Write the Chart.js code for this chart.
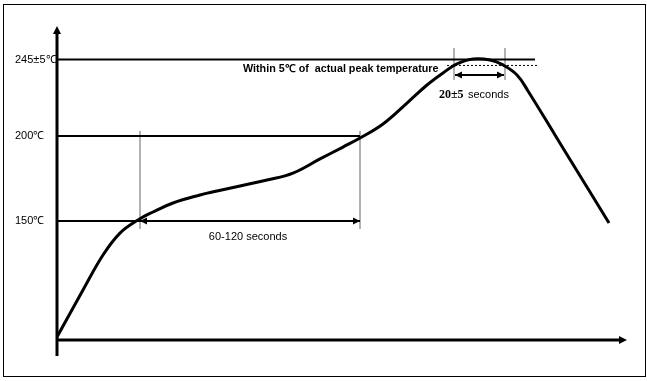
<!DOCTYPE html>
<html>
<head>
<meta charset="utf-8">
<script src="https://cdn.jsdelivr.net/npm/chart.js@4"></script>
<style>
  html, body { margin: 0; padding: 0; background: #fff; }
  #wrap { position: relative; width: 647px; height: 381px; }
</style>
</head>
<body>
<div id="wrap"><canvas id="c" width="647" height="381"></canvas></div>
<script>
// ─── Data ───────────────────────────────────────────
// reflow profile, time in seconds (schematic), temperature in ℃
const timeS = [0, 13, 23, 31.5, 40.5, 48, 58, 71.5, 80, 91.5, 105, 118, 131.5, 143, 151.5, 163, 175, 185, 193, 200, 208, 216.5, 223, 230, 235.5, 249, 256.5, 266.5, 276];
const tempC = [81.8, 109.4, 130, 142.9, 150.6, 155.3, 160.6, 165.3, 167.6, 170.6, 174.1, 178.2, 186.5, 193.5, 198.8, 207.1, 219.4, 230, 237.1, 242.4, 245.3, 244.7, 241.8, 235.9, 226.5, 200.6, 186.2, 167.1, 148.8];

// reference levels and their axis labels
const levelT = [150, 200, 245];
const levelLabels = ['150℃', '200℃', '245±5℃'];
const levelEnd = [151.5, 151.5, 239];

// thin vertical marker lines
const markX = [41.5, 151.5, 198.5, 224];
const markLo = [145.3, 145.3, 233, 233];
const markHi = [203, 203, 251.8, 251.8];

// "within 5℃" dotted level
const withinT = 241.5;
const withinX = [195, 240];

// time spans with double arrows
const soakX = [41.5, 151.5];
const soakT = 150;
const peakX = [199, 223.5];
const peakT = 235.9;

// ─── Helpers ────────────────────────────────────────
const pts = (xs, ys) => xs.map((x, i) => ({ x, y: ys[i] }));

function arrowHead(ctx, x, y, dir, len, half) {
  // dir: 'l' | 'r' | 'u'
  ctx.beginPath();
  if (dir === 'r') { ctx.moveTo(x, y); ctx.lineTo(x - len, y - half); ctx.lineTo(x - len, y + half); }
  if (dir === 'l') { ctx.moveTo(x, y); ctx.lineTo(x + len, y - half); ctx.lineTo(x + len, y + half); }
  if (dir === 'u') { ctx.moveTo(x, y); ctx.lineTo(x - half, y + len); ctx.lineTo(x + half, y + len); }
  ctx.closePath();
  ctx.fill();
}

// ─── Datasets ───────────────────────────────────────
const datasets = [
  { data: pts(timeS, tempC), borderColor: '#000', borderWidth: 3, tension: 0.4 },
];
levelT.forEach((t, i) => {
  datasets.push({ data: [{ x: 0, y: t }, { x: levelEnd[i], y: t }], borderColor: '#000', borderWidth: 2 });
});
markX.forEach((x, i) => {
  datasets.push({ data: [{ x, y: markLo[i] }, { x, y: markHi[i] }], borderColor: '#666', borderWidth: 1 });
});
datasets.push({ data: withinX.map(x => ({ x, y: withinT })), borderColor: '#000', borderWidth: 1, borderDash: [2, 2] });
datasets.push({ data: soakX.map(x => ({ x, y: soakT })), borderColor: '#000', borderWidth: 2, span: true });
datasets.push({ data: peakX.map(x => ({ x, y: peakT })), borderColor: '#000', borderWidth: 2, span: true });

// ─── Decorations (frame, axes arrows, notes) ────────
const decor = {
  id: 'decor',
  beforeDraw(chart) {
    const { ctx, width, height } = chart;
    ctx.save();
    ctx.fillStyle = '#fff';
    ctx.fillRect(0, 0, width, height);
    ctx.strokeStyle = '#000';
    ctx.lineWidth = 1;
    ctx.strokeRect(3.5, 4.5, 642, 372);
    ctx.restore();
  },
  afterDatasetsDraw(chart) {
    const { ctx, chartArea: a, scales: { x, y } } = chart;
    ctx.save();
    ctx.fillStyle = '#000';
    ctx.strokeStyle = '#000';

    // axes
    ctx.lineWidth = 3;
    ctx.beginPath();
    ctx.moveTo(a.left, a.top + 5);
    ctx.lineTo(a.left, a.bottom + 16);
    ctx.moveTo(a.left - 1.5, a.bottom);
    ctx.lineTo(a.right - 5, a.bottom);
    ctx.stroke();
    arrowHead(ctx, a.left, a.top, 'u', 8, 4);
    arrowHead(ctx, a.right, a.bottom, 'r', 8, 4);

    // span arrowheads
    chart.data.datasets.forEach((ds, i) => {
      if (!ds.span) return;
      const d = chart.getDatasetMeta(i).data;
      arrowHead(ctx, d[0].x, d[0].y, 'l', 7, 3.5);
      arrowHead(ctx, d[d.length - 1].x, d[d.length - 1].y, 'r', 7, 3.5);
    });

    // notes
    ctx.textBaseline = 'middle';
    ctx.textAlign = 'left';
    ctx.font = 'bold 10.75px "Liberation Sans", Arial, sans-serif';
    ctx.fillText('Within 5℃ of  actual peak temperature', x.getPixelForValue(93), y.getPixelForValue(239.4));
    ctx.font = 'bold 12px "Liberation Serif", "Times New Roman", serif';
    ctx.fillText('20±5', x.getPixelForValue(191), y.getPixelForValue(224));
    ctx.font = '11px "Liberation Sans", Arial, sans-serif';
    ctx.fillText('seconds', x.getPixelForValue(205.5), y.getPixelForValue(224));
    ctx.textAlign = 'center';
    ctx.fillText('60-120 seconds', x.getPixelForValue(95.5), y.getPixelForValue(140.6));
    ctx.restore();
  }
};

// ─── Chart ──────────────────────────────────────────
new Chart(document.getElementById('c'), {
  type: 'line',
  data: { datasets },
  options: {
    responsive: false,
    animation: false,
    devicePixelRatio: 1,
    layout: { padding: { left: 15, top: 26, right: 20, bottom: 41 } },
    plugins: { legend: { display: false }, tooltip: { enabled: false } },
    elements: { point: { radius: 0 }, line: { tension: 0 } },
    scales: {
      x: { type: 'linear', display: false, min: 0, max: 285 },
      y: {
        type: 'linear', min: 80, max: 264.7,
        afterFit: s => { s.width = 42; },
        afterBuildTicks: s => { s.ticks = levelT.map(v => ({ value: v })); },
        grid: { display: false },
        border: { display: false },
        ticks: {
          crossAlign: 'far', padding: 0, color: '#000',
          font: { family: '"Liberation Sans", Arial, sans-serif', size: 11 },
          callback: (v, i) => levelLabels[i]
        }
      }
    }
  },
  plugins: [decor]
});
</script>
</body>
</html>
